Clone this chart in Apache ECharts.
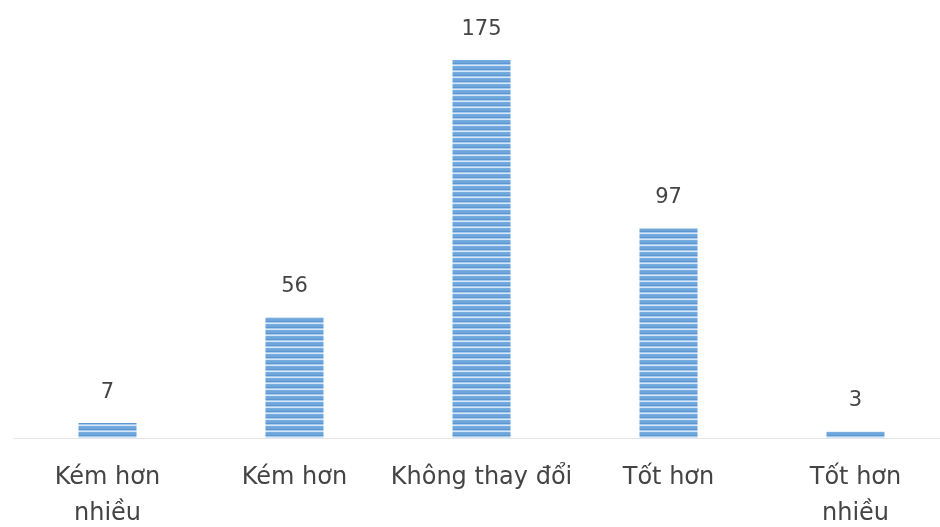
<!DOCTYPE html>
<html>
<head>
<meta charset="utf-8">
<script src="https://cdn.jsdelivr.net/npm/echarts@6/dist/echarts.min.js"></script>
<style>
html,body{margin:0;padding:0;background:#fff;}
#chart{width:940px;height:527px;}
</style>
</head>
<body>
<div id="chart"></div>
<script>
var categories = ['Kém hơn\nnhiều', 'Kém hơn', 'Không thay đổi', 'Tốt hơn', 'Tốt hơn\nnhiều'];
var values = [7, 56, 175, 97, 3];

function makePattern() {
  var c = document.createElement('canvas');
  c.width = 8; c.height = 6;
  var ctx = c.getContext('2d');
  var rows = ['#78ade0', '#6ea6dc', '#6ea6dc', '#5d97d1', '#a8caec', '#d3e5f6'];
  for (var i = 0; i < rows.length; i++) {
    ctx.fillStyle = rows[i];
    ctx.fillRect(0, i, 8, 1);
  }
  return c;
}

var chart = echarts.init(document.getElementById('chart'), null, {renderer: 'canvas'});
chart.setOption({
  animation: false,
  backgroundColor: '#ffffff',
  grid: {left: 14, right: -9, top: 6, bottom: 89, containLabel: false, outerBoundsMode: 'none'},
  xAxis: {
    type: 'category',
    data: categories,
    axisLine: {show: true, lineStyle: {color: '#e6e6e6', width: 1}},
    axisTick: {show: false},
    axisLabel: {
      color: '#444444',
      fontFamily: 'DejaVu Sans, sans-serif',
      fontSize: 24,
      lineHeight: 36,
      margin: 22,
      interval: 0
    }
  },
  yAxis: {
    type: 'value', min: 0, max: 200,
    show: false,
    splitLine: {show: false}
  },
  series: [{
    type: 'bar',
    data: values,
    barWidth: 58,
    itemStyle: {color: {image: makePattern(), repeat: 'repeat'}},
    label: {
      show: true,
      position: 'top',
      distance: 20,
      color: '#444444',
      fontFamily: 'DejaVu Sans, sans-serif',
      fontSize: 21
    }
  }]
});
</script>
</body>
</html>
